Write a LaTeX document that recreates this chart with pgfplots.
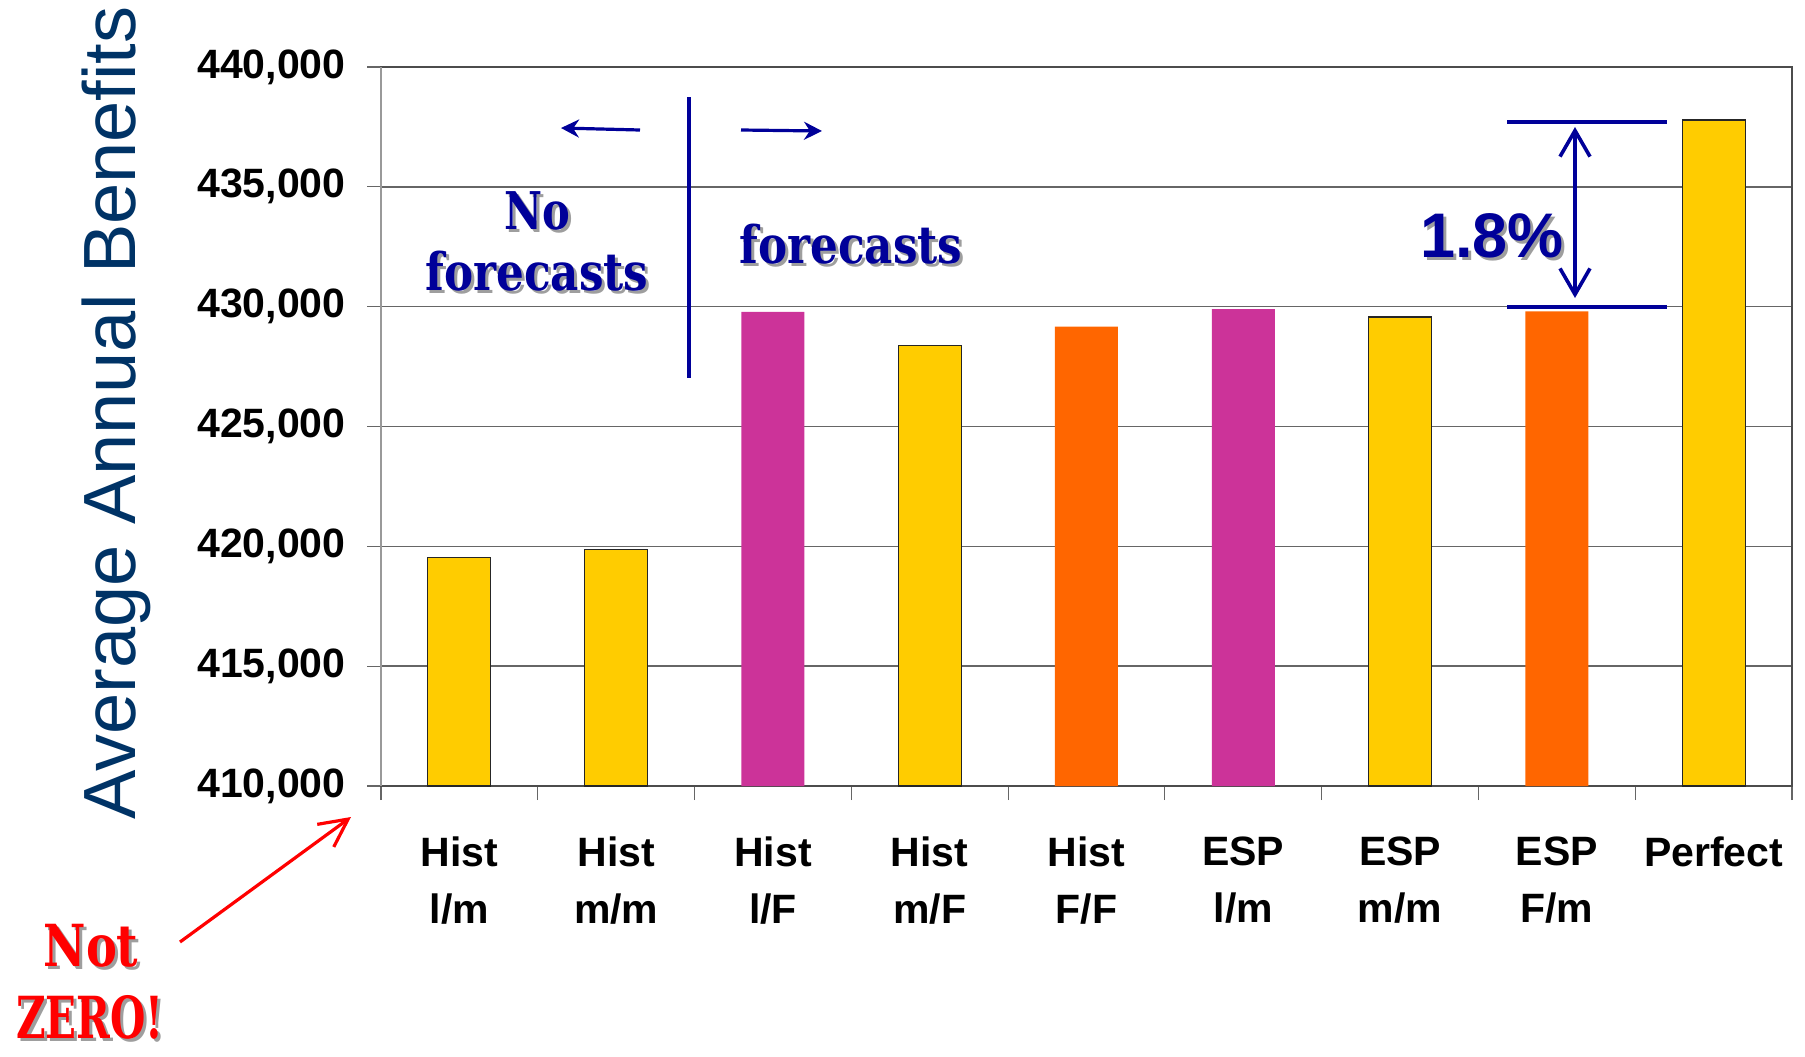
\documentclass[border=0pt]{standalone}
\usepackage{pgfplots}
\pgfplotsset{compat=1.18}
\usetikzlibrary{arrows.meta}
\usepackage{fontspec}
\setmainfont{Liberation Sans}
\newfontfamily\dvserif{DejaVu Serif}
\definecolor{barYellow}{HTML}{FFCC00}
\definecolor{barPink}{HTML}{CC3399}
\definecolor{barOrange}{HTML}{FF6600}
\definecolor{labelNavy}{HTML}{003366}
\definecolor{annBlue}{HTML}{000099}

% text with a soft grey drop shadow: x, baseline y, colour, font, text
\newcommand{\shadowed}[5]{%
  \node[anchor=base,text=black!38,inner sep=0pt] at (#1+3,#2+3) {#4#5};
  \node[anchor=base,text=#3,inner sep=0pt] at (#1,#2) {#4#5};}

\begin{document}
\begin{tikzpicture}
\begin{scope}[x=0.5pt,y=-0.5pt]
\useasboundingbox (0,0) rectangle (1805,1056);
\end{scope}
\begin{axis}[
  at={(190.5pt,-393pt)}, anchor=south west,
  scale only axis, width=705.5pt, height=359.5pt,
  xmin=-0.5, xmax=8.5, ymin=410000, ymax=440000,
  ytick={410000,415000,420000,425000,430000,435000,440000},
  scaled y ticks=false,
  /pgf/number format/fixed,
  /pgf/number format/1000 sep={,},
  /pgf/number format/assume math mode=true,
  xtick={-0.5,0.5,...,8.5},
  x tick label as interval,
  xticklabels={{Hist\\l/m},{Hist\\m/m},{Hist\\l/F},{Hist\\m/F},{Hist\\F/F},
               {ESP\\l/m},{ESP\\m/m},{ESP\\F/m},{Perfect}},
  tick pos=left, tick align=outside, major tick length=7pt,
  tick style={black!60, line width=0.6pt},
  ticklabel style={font=\fontsize{20.5}{28.5}\selectfont\bfseries},
  xticklabel style={align=center, anchor=north, inner sep=0pt, yshift=-18pt},
  yticklabel style={anchor=east, inner sep=0pt, xshift=-10.5pt},
  ymajorgrids, major grid style={black!60, line width=0.7pt},
  axis line style={black!70, line width=0.7pt},
  ybar, bar width=31.5pt,
  clip mode=individual,
]
\addplot[bar shift=0pt, fill=barYellow, draw=black!85, line width=0.6pt]
  coordinates {(0,419540) (1,419880) (3,428380) (6,429570) (8,437790)};
\addplot[bar shift=0pt, fill=barPink, draw=none]
  coordinates {(2,429780) (5,429900)};
\addplot[bar shift=0pt, fill=barOrange, draw=none]
  coordinates {(4,429170) (7,429800)};
\end{axis}

\begin{scope}[x=0.5pt,y=-0.5pt]
% left spine is lighter than the rest of the frame
\draw[black!40, line width=0.7pt] (381,786) -- (381,67);

% vertical axis title
\node[rotate=90, anchor=base west, text=labelNavy, inner sep=0pt,
      font=\fontsize{37}{37}\selectfont] at (135,820) {Average Annual Benefits};

% divider between the two groups of runs
\draw[annBlue, line width=1.75pt] (689,97) -- (689,378);
\draw[annBlue, line width=1.6pt, -{Stealth[length=9pt,width=9pt]}] (640,130) -- (561,128);
\draw[annBlue, line width=1.6pt, -{Stealth[length=9pt,width=9pt]}] (741,130) -- (822,131);
\shadowed{537}{229}{annBlue}{\dvserif\bfseries\fontsize{26}{26}\selectfont}{\scalebox{0.8}[1]{No}}
\shadowed{537}{290}{annBlue}{\dvserif\bfseries\fontsize{26}{26}\selectfont}{\scalebox{0.84}[1]{forecasts}}
\shadowed{851}{263}{annBlue}{\dvserif\bfseries\fontsize{26}{26}\selectfont}{\scalebox{0.84}[1]{forecasts}}

% gap between the best forecast run and perfect foresight
\draw[annBlue, line width=2pt] (1507,122) -- (1667,122);
\draw[annBlue, line width=2pt] (1507,307) -- (1667,307);
\draw[annBlue, line width=1.8pt,
      {Straight Barb[length=13pt,width=15pt]}-{Straight Barb[length=13pt,width=15pt]}]
      (1575,127) -- (1575,298);
\shadowed{1492}{257}{annBlue}{\bfseries\fontsize{31.5}{31.5}\selectfont}{1.8\%}

% note on the truncated value axis
\draw[red, line width=1.6pt, -{Straight Barb[length=14pt,width=14pt]}] (180,942) -- (351,817);
\shadowed{91}{966}{red}{\dvserif\bfseries\fontsize{29}{29}\selectfont}{\scalebox{0.8}[1]{Not}}
\shadowed{90}{1038}{red}{\dvserif\bfseries\fontsize{29}{29}\selectfont}{\scalebox{0.7}[1]{ZERO!}}
\end{scope}
\end{tikzpicture}
\end{document}
